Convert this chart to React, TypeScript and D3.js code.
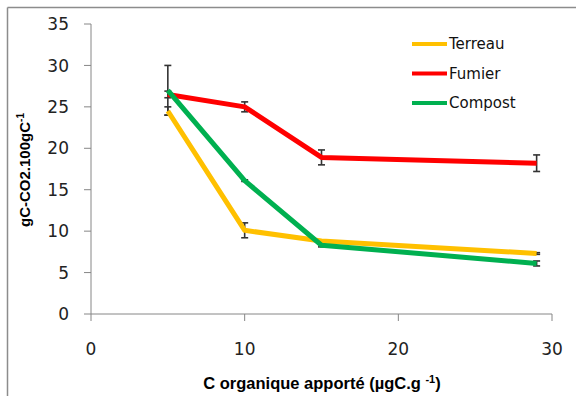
import React from "react";
import * as d3 from "d3";

// x = organic C added
const doses = [5, 10, 15, 29];
const terreau = [24.5, 10.1, 8.8, 7.3];
const terreauErr = [0.5, 0.9, 0.1, 0.1];
const fumier = [26.5, 25.0, 18.9, 18.2];
const fumierErr = [0.4, 0.6, 0.9, 1.0];
const compost = [27.0, 16.1, 8.3, 6.1];
const compostErr = [3.0, 0.1, 0.2, 0.3];

const yTicks = [0, 5, 10, 15, 20, 25, 30, 35];
const xTicks = [0, 10, 20, 30];

const seriesNames = ["Terreau", "Fumier", "Compost"];
const seriesColors = ["#FFC000", "#FF0000", "#00B050"];

const W = 576;
const H = 396;

export default function App() {
  const x = d3.scaleLinear().domain([0, 30]).range([91, 552]);
  const y = d3.scaleLinear().domain([0, 35]).range([314, 24]);

  const allSeries = [
    { name: seriesNames[0], color: seriesColors[0], vals: terreau, err: terreauErr },
    { name: seriesNames[1], color: seriesColors[1], vals: fumier, err: fumierErr },
    { name: seriesNames[2], color: seriesColors[2], vals: compost, err: compostErr },
  ];

  const line = d3
    .line<number>()
    .x((d, i) => x(doses[i]))
    .y((d) => y(d));

  const axisColor = "#868686";
  const tickFont = "DejaVu Sans, sans-serif";
  const boldFont = "Liberation Sans, Arial, sans-serif";

  return (
    <div>
      <style>{`body{margin:0}`}</style>
      <svg width={W} height={H} style={{ display: "block", background: "#fff" }}>
        {/* outer frame */}
        <line x1={7.5} y1={7.5} x2={W} y2={7.5} stroke="#8c8c8c" strokeWidth={1.5} />
        <line x1={7.5} y1={7.5} x2={7.5} y2={H} stroke="#8c8c8c" strokeWidth={1.5} />

        {/* y axis */}
        <line x1={x(0)} y1={y(35)} x2={x(0)} y2={y(0)} stroke={axisColor} />
        {yTicks.map((t) => (
          <g key={"y" + t}>
            <line x1={x(0) - 7} x2={x(0)} y1={y(t)} y2={y(t)} stroke={axisColor} />
            <text
              x={69}
              y={y(t)}
              dy="0.36em"
              textAnchor="end"
              fontFamily={tickFont}
              fontSize={17}
              fill="#222"
            >
              {t}
            </text>
          </g>
        ))}

        {/* x axis */}
        <line x1={x(0)} y1={y(0)} x2={x(30)} y2={y(0)} stroke={axisColor} />
        {xTicks.map((t) => (
          <g key={"x" + t}>
            <line x1={x(t)} x2={x(t)} y1={y(0)} y2={y(0) + 7} stroke={axisColor} />
            <text
              x={x(t)}
              y={349}
              dy="0.36em"
              textAnchor="middle"
              fontFamily={tickFont}
              fontSize={17}
              fill="#222"
            >
              {t}
            </text>
          </g>
        ))}

        {/* axis titles */}
        <text
          x={322}
          y={389}
          textAnchor="middle"
          fontFamily={boldFont}
          fontWeight="bold"
          fontSize={16.5}
          fill="#000"
        >
          C organique apporté (µgC.g{" "}
          <tspan fontSize={11} dy={-6}>-1</tspan>
          <tspan dy={6}>)</tspan>
        </text>
        <g transform="translate(30,170) rotate(-90)">
          <text
            x={0}
            y={0}
            textAnchor="middle"
            fontFamily={boldFont}
            fontWeight="bold"
            fontSize={15}
            fill="#000"
          >
            gC-CO2.100gC
            <tspan fontSize={10} dy={-6}>-1</tspan>
          </text>
        </g>

        {/* error bars, under the lines */}
        {allSeries.map((s) =>
          s.vals.map((v, i) => {
            const cx = x(doses[i]);
            const y1 = y(v + s.err[i]);
            const y2 = y(v - s.err[i]);
            return (
              <g key={s.name + i} stroke="#333" strokeWidth={1.6}>
                <line x1={cx} x2={cx} y1={y1} y2={y2} />
                <line x1={cx - 3.5} x2={cx + 3.5} y1={y1} y2={y1} />
                <line x1={cx - 3.5} x2={cx + 3.5} y1={y2} y2={y2} />
              </g>
            );
          })
        )}

        {/* series lines */}
        {allSeries.map((s) => (
          <path
            key={s.name}
            d={line(s.vals) || ""}
            fill="none"
            stroke={s.color}
            strokeWidth={5}
            strokeLinejoin="round"
          />
        ))}

        {/* legend */}
        {allSeries.map((s, i) => {
          const ly = 44 + i * 29.5;
          return (
            <g key={"lg" + s.name}>
              <line x1={412} x2={447} y1={ly} y2={ly} stroke={s.color} strokeWidth={4} />
              <text
                x={449}
                y={ly}
                dy="0.36em"
                fontFamily={tickFont}
                fontSize={15}
                fill="#111"
              >
                {s.name}
              </text>
            </g>
          );
        })}
      </svg>
    </div>
  );
}
